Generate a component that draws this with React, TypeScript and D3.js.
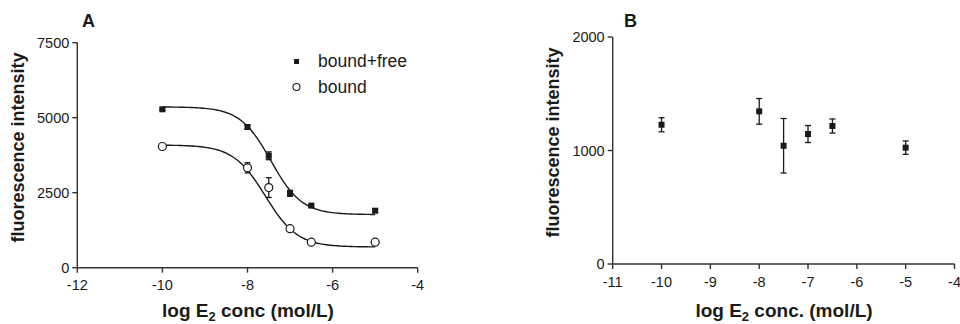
import React from "react";
import * as d3 from "d3";

// Panel A: competitive binding, two series (mean with SEM)
const concA = [-10, -8, -7.5, -7, -6.5, -5];
const boundFree = [5280, 4690, 3730, 2480, 2070, 1900];
const boundFreeErr = [40, 60, 130, 100, 50, 60];
const bound = [4040, 3330, 2670, 1300, 850, 850];
const boundErr = [30, 170, 330, 40, 30, 30];

// Four-parameter logistic fits: [top, bottom, logEC50, hill]
const fitBoundFree = [5360, 1770, -7.45, 1.2];
const fitBound = [4090, 690, -7.58, 1.15];

const ticksXA = [-12, -10, -8, -6, -4];
const ticksYA = [0, 2500, 5000, 7500];

// Panel B: control series
const concB = [-10, -8, -7.5, -7, -6.5, -5];
const controlB = [1227, 1345, 1042, 1145, 1216, 1025];
const controlBErr = [62, 113, 240, 75, 62, 59];
const ticksXB = [-11, -10, -9, -8, -7, -6, -5, -4];
const ticksYB = [0, 1000, 2000];

const FONT = "'Liberation Sans', Arial, Helvetica, sans-serif";
const INK = "#1a1a1a";
const AXIS = "#333";

function logistic(p: number[], x: number) {
  const [top, bottom, ec50, hill] = p;
  return bottom + (top - bottom) / (1 + Math.pow(10, (x - ec50) * hill));
}

function Axes({ x, y, xTicks, yTicks }: any) {
  const [x0, x1] = x.range();
  const [y0] = y.range();
  return (
    <g fontFamily={FONT} fontSize={14.5} fill={INK}>
      <line x1={x0} x2={x1} y1={y0} y2={y0} stroke={AXIS} strokeWidth={1.4} />
      <line x1={x0} x2={x0} y1={y0} y2={y.range()[1]} stroke={AXIS} strokeWidth={1.4} />
      {xTicks.map((t: number) => (
        <g key={"x" + t}>
          <line x1={x(t)} x2={x(t)} y1={y0} y2={y0 + 5} stroke={AXIS} strokeWidth={1.4} />
          <text x={x(t)} y={y0 + 22.5} textAnchor="middle">{t < 0 ? "-" + Math.abs(t) : t}</text>
        </g>
      ))}
      {yTicks.map((t: number) => (
        <g key={"y" + t}>
          <line x1={x0 - 5} x2={x0} y1={y(t)} y2={y(t)} stroke={AXIS} strokeWidth={1.4} />
          <text x={x0 - 8} y={y(t) + 5} textAnchor="end">{t}</text>
        </g>
      ))}
    </g>
  );
}

function ErrorBar({ cx, yLo, yHi }: any) {
  return (
    <g stroke={INK} strokeWidth={1.3}>
      <line x1={cx} x2={cx} y1={yLo} y2={yHi} />
      <line x1={cx - 3} x2={cx + 3} y1={yLo} y2={yLo} />
      <line x1={cx - 3} x2={cx + 3} y1={yHi} y2={yHi} />
    </g>
  );
}

export default function App() {
  // Panel A scales
  const xA = d3.scaleLinear().domain([-12, -4]).range([77.3, 417.7]);
  const yA = d3.scaleLinear().domain([0, 7500]).range([267.7, 42.7]);
  // Panel B scales
  const xB = d3.scaleLinear().domain([-11, -4]).range([612.7, 954.5]);
  const yB = d3.scaleLinear().domain([0, 2000]).range([264, 37]);

  const curveX = d3.range(-10, -4.999, 0.05);
  const line = d3
    .line<number>()
    .x((d) => xA(d))
    .curve(d3.curveLinear);
  const pathBF = line.y((d) => yA(logistic(fitBoundFree, d)))(curveX) as string;
  const pathB = line.y((d) => yA(logistic(fitBound, d)))(curveX) as string;

  return (
    <svg
      width={960}
      height={324}
      style={{ position: "absolute", left: 0, top: 0, background: "#fff" }}
    >
      {/* Panel A */}
      <text x={82} y={27} fontFamily={FONT} fontWeight="bold" fontSize={18} fill={INK}>A</text>
      <Axes x={xA} y={yA} xTicks={ticksXA} yTicks={ticksYA} />
      <path d={pathBF} fill="none" stroke={INK} strokeWidth={1.4} />
      <path d={pathB} fill="none" stroke={INK} strokeWidth={1.4} />
      {concA.map((c, i) => (
        <g key={"bf" + i}>
          <ErrorBar cx={xA(c)} yLo={yA(boundFree[i] - boundFreeErr[i])} yHi={yA(boundFree[i] + boundFreeErr[i])} />
          <rect x={xA(c) - 3} y={yA(boundFree[i]) - 3} width={6} height={6} fill={INK} />
        </g>
      ))}
      {concA.map((c, i) => (
        <g key={"b" + i}>
          <ErrorBar cx={xA(c)} yLo={yA(bound[i] - boundErr[i])} yHi={yA(bound[i] + boundErr[i])} />
          <circle cx={xA(c)} cy={yA(bound[i])} r={4} fill="#fff" stroke={INK} strokeWidth={1.2} />
        </g>
      ))}
      {/* Legend */}
      <g fontFamily={FONT} fontSize={17.5} fill={INK}>
        <rect x={294} y={59} width={5} height={5} fill={INK} />
        <text x={318} y={67}>bound+free</text>
        <circle cx={296.5} cy={87} r={3.5} fill="#fff" stroke={INK} strokeWidth={1.1} />
        <text x={318} y={93}>bound</text>
      </g>
      <text
        transform="translate(24,147.5) rotate(-90)"
        textAnchor="middle"
        fontFamily={FONT}
        fontWeight="bold"
        fontSize={18}
        fill={INK}
      >
        fluorescence intensity
      </text>
      <text x={248} y={317} textAnchor="middle" fontFamily={FONT} fontWeight="bold" fontSize={19} fill={INK}>
        log E<tspan fontSize={13} dy={4}>2</tspan>
        <tspan dy={-4}> conc (mol/L)</tspan>
      </text>

      {/* Panel B */}
      <text x={624} y={27} fontFamily={FONT} fontWeight="bold" fontSize={18} fill={INK}>B</text>
      <Axes x={xB} y={yB} xTicks={ticksXB} yTicks={ticksYB} />
      {concB.map((c, i) => (
        <g key={"c" + i}>
          <ErrorBar cx={xB(c)} yLo={yB(controlB[i] - controlBErr[i])} yHi={yB(controlB[i] + controlBErr[i])} />
          <rect x={xB(c) - 3} y={yB(controlB[i]) - 3} width={6} height={6} fill={INK} />
        </g>
      ))}
      <text
        transform="translate(559,142.5) rotate(-90)"
        textAnchor="middle"
        fontFamily={FONT}
        fontWeight="bold"
        fontSize={18}
        fill={INK}
      >
        fluorescence intensity
      </text>
      <text x={784} y={317} textAnchor="middle" fontFamily={FONT} fontWeight="bold" fontSize={19} fill={INK}>
        log E<tspan fontSize={13} dy={4}>2</tspan>
        <tspan dy={-4}> conc. (mol/L)</tspan>
      </text>
    </svg>
  );
}
